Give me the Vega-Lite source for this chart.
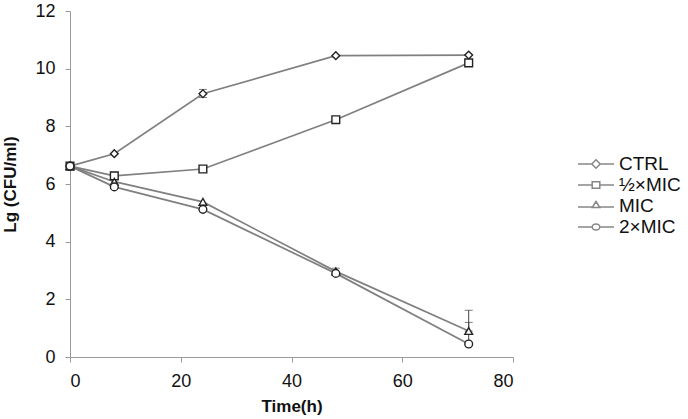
{
  "$schema": "https://vega.github.io/schema/vega-lite/v6.json",
  "width": 443,
  "height": 346,
  "autosize": "none",
  "padding": {"left": 70, "top": 11, "right": 175, "bottom": 62},
  "background": "white",
  "config": {
    "view": {"stroke": null},
    "font": "Liberation Sans",
    "axis": {
      "grid": false,
      "domainColor": "#9a9a9a",
      "tickColor": "#9a9a9a",
      "labelFontSize": 18,
      "labelColor": "#111",
      "titleFontSize": 17,
      "titleFontWeight": "bold",
      "titleColor": "#111",
      "tickSize": 5
    }
  },
  "datasets": {
    "series": [
      {"time": 0, "value": 6.62, "group": "CTRL"},
      {"time": 8, "value": 7.05, "group": "CTRL"},
      {"time": 24, "value": 9.13, "group": "CTRL"},
      {"time": 48, "value": 10.45, "group": "CTRL"},
      {"time": 72, "value": 10.47, "group": "CTRL"},
      {"time": 0, "value": 6.62, "group": "½×MIC"},
      {"time": 8, "value": 6.28, "group": "½×MIC"},
      {"time": 24, "value": 6.52, "group": "½×MIC"},
      {"time": 48, "value": 8.23, "group": "½×MIC"},
      {"time": 72, "value": 10.2, "group": "½×MIC"},
      {"time": 0, "value": 6.62, "group": "MIC"},
      {"time": 8, "value": 6.08, "group": "MIC"},
      {"time": 24, "value": 5.38, "group": "MIC"},
      {"time": 48, "value": 2.97, "group": "MIC"},
      {"time": 72, "value": 0.9, "group": "MIC"},
      {"time": 0, "value": 6.62, "group": "2×MIC"},
      {"time": 8, "value": 5.9, "group": "2×MIC"},
      {"time": 24, "value": 5.12, "group": "2×MIC"},
      {"time": 48, "value": 2.9, "group": "2×MIC"},
      {"time": 72, "value": 0.45, "group": "2×MIC"}
    ],
    "errors": [
      {"time": 24, "lo": 9.0, "hi": 9.28},
      {"time": 48, "lo": 2.85, "hi": 3.08},
      {"time": 72, "lo": 0.9, "hi": 1.62},
      {"time": 72, "lo": 0.45, "hi": 1.2}
    ]
  },
  "layer": [
    {
      "data": {"name": "errors"},
      "mark": {"type": "errorbar", "ticks": {"size": 8, "color": "#444"}, "rule": {"color": "#444"}},
      "encoding": {
        "x": {"field": "time", "type": "quantitative", "title": "Time(h)"},
        "y": {"field": "lo", "type": "quantitative", "title": "Lg (CFU/ml)"},
        "y2": {"field": "hi"}
      }
    },
    {
      "data": {"name": "series"},
      "mark": {"type": "line", "color": "#808080", "strokeWidth": 1.7},
      "encoding": {
        "x": {"field": "time", "type": "quantitative", "scale": {"domain": [0, 80]},
              "axis": {"values": [0, 20, 40, 60, 80], "title": "Time(h)", "titlePadding": 8, "labelPadding": 10}},
        "y": {"field": "value", "type": "quantitative", "scale": {"domain": [0, 12]},
              "axis": {"values": [0, 2, 4, 6, 8, 10, 12], "title": "Lg (CFU/ml)", "titlePadding": 15, "labelPadding": 10}},
        "detail": {"field": "group"}
      }
    },
    {
      "data": {"name": "series"},
      "mark": {"type": "point", "filled": true, "fill": "white", "stroke": "#222", "strokeWidth": 1.4, "opacity": 1, "size": 60},
      "encoding": {
        "x": {"field": "time", "type": "quantitative"},
        "y": {"field": "value", "type": "quantitative"},
        "shape": {"field": "group", "type": "nominal",
          "scale": {"domain": ["CTRL", "½×MIC", "MIC", "2×MIC"], "range": ["diamond", "square", "triangle-up", "circle"]},
          "legend": null}
      }
    },
    {
      "data": {"name": "series"},
      "mark": {"type": "point", "filled": true, "fill": "white", "stroke": "#555", "strokeWidth": 1, "size": 0},
      "encoding": {
        "x": {"field": "time", "type": "quantitative"},
        "y": {"field": "value", "type": "quantitative"},
        "shape": {"field": "group", "type": "nominal",
          "scale": {"domain": ["CTRL", "½×MIC", "MIC", "2×MIC"],
            "range": [
              "M-1.8,0L-0.42,0M0.42,0L1.8,0M0,-0.42L0.42,0L0,0.42L-0.42,0Z",
              "M-1.8,0L-0.38,0M0.38,0L1.8,0M-0.38,-0.32L0.38,-0.32L0.38,0.32L-0.38,0.32Z",
              "M-1.8,0.1L-0.38,0.1M0.38,0.1L1.8,0.1M0,-0.45L0.38,0.15L-0.38,0.15Z",
              "M-1.8,0L-0.38,0M0.38,0L1.8,0M-0.38,0A0.38,0.3,0,1,0,0.38,0A0.38,0.3,0,1,0,-0.38,0Z"
            ]},
          "legend": {
            "title": null,
            "orient": "none",
            "legendX": 515,
            "legendY": 142,
            "symbolSize": 400,
            "labelFontSize": 19,
            "labelColor": "#111",
            "labelOffset": 12,
            "rowPadding": 0,
            "encode": {
              "symbols": {
                "update": {
                  "stroke": {"value": "#555"},
                  "fill": {"value": "white"},
                  "opacity": {"value": 1},
                  "strokeWidth": {"value": 1},
                  "size": {"value": 400}
                }
              }
            }
          }
        }
      }
    }
  ],
  "resolve": {"scale": {"shape": "independent"}}
}
